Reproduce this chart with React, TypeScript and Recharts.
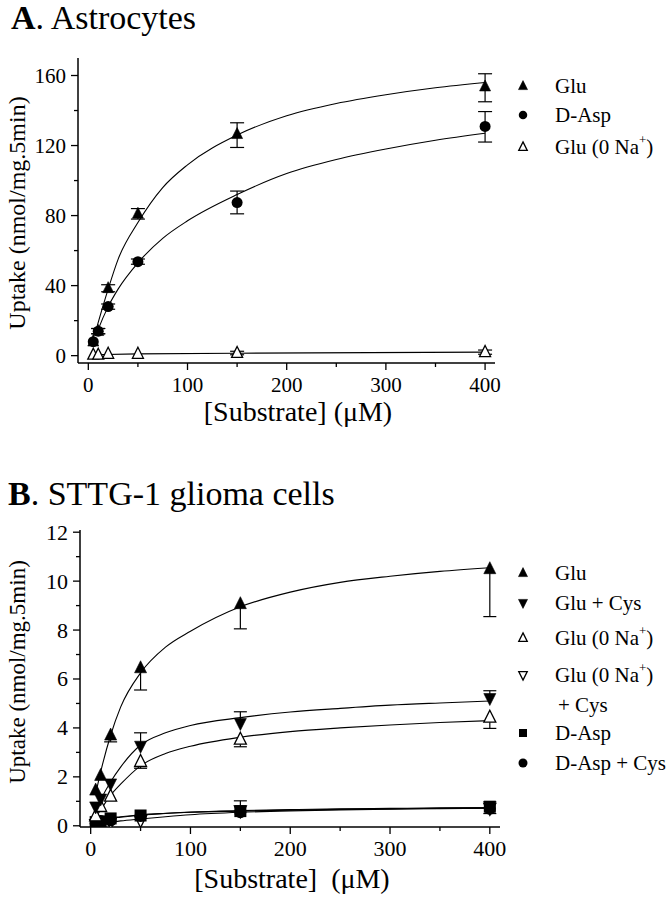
import React from "react";
import { ComposedChart, Line, Scatter, ErrorBar, XAxis, YAxis } from "recharts";

const FONT = "'Liberation Serif', 'Times New Roman', serif";

// substrate concentrations (uM), same for every series
const conc = [5, 10, 20, 50, 150, 400];

// ---- A. Astrocytes ----
const aGlu = [8, 14, 38.5, 81, 126.5, 153.7];
const aGluErr = [null, [1.5, 1.5], [2, 2], [3, 3], [7.6, 6.5], [8.7, 7.3]];
const aAsp = [8, 14, 28, 53.7, 87.4, 130.9];
const aAspErr = [null, [1.5, 1.5], [1.5, 1.5], [1.5, 1.5], [6.4, 6.6], [8.9, 8.5]];
const aGluNa = [0.5, 0.5, 1, 1, 1.5, 2];
const aGluNaErr = [null, null, null, null, [1, 1], [1.2, 1.2]];

// fitted curves
const aFitX = [8, 10, 20, 30, 50, 75, 100, 150, 200, 250, 300, 350, 400];
const aGluFit = [15, 19, 38, 55, 76, 96, 109, 126, 137, 144, 149, 153, 156];
const aAspFit = [12, 15, 28, 38, 53, 67, 77, 92, 104, 112, 118, 123, 127];
const aNaFitX = [5, 50, 150, 400];
const aNaFit = [0.5, 1, 1.4, 2];

// ---- B. STTG-1 glioma cells ----
const bGlu = [1.45, 2.05, 3.7, 6.45, 9.07, 10.5];
const bGluErr = [null, null, [0.27, 0], [0.9, 0], [1.02, 0], [1.95, 0]];
const bGluCys = [0.78, 1.1, 1.72, 3.26, 4.19, 5.21];
const bGluCysErr = [null, null, null, [0, 0.54], [0, 0.47], [0, 0.31]];
const bGluNa = [0.4, 0.78, 1.2, 2.62, 3.53, 4.43];
const bGluNaErr = [null, null, null, [0.27, 0], [0.3, 0], [0.45, 0]];
const bGluNaCys = [0.05, 0.08, 0.15, 0.22, 0.62, 0.72];
const bGluNaCysErr = [null, null, null, null, [0, 0.4], [0.22, 0.26]];
const bAsp = [0.15, 0.18, 0.3, 0.42, 0.6, 0.78];
const bAspCys = [0.1, 0.2, 0.22, 0.4, 0.55, 0.7];

const bFitX = [5, 10, 20, 30, 50, 75, 100, 150, 200, 250, 300, 350, 400];
const bGluFit = [1.3, 2.2, 3.7, 4.85, 6.25, 7.3, 7.95, 8.95, 9.55, 9.95, 10.2, 10.4, 10.55];
const bGluCysFit = [0.6, 1.05, 1.8, 2.4, 3.3, 3.8, 4.1, 4.42, 4.65, 4.8, 4.93, 5.02, 5.1];
const bGluNaFit = [0.35, 0.65, 1.25, 1.7, 2.45, 2.95, 3.25, 3.62, 3.85, 4.0, 4.12, 4.22, 4.3];
const bAspFit = [0.18, 0.24, 0.32, 0.37, 0.45, 0.51, 0.56, 0.62, 0.66, 0.69, 0.71, 0.73, 0.74];
const bAspCysFit = [0.12, 0.2, 0.3, 0.35, 0.43, 0.5, 0.55, 0.6, 0.64, 0.67, 0.69, 0.71, 0.72];
const bGluNaCysFit = [0.03, 0.07, 0.14, 0.2, 0.28, 0.37, 0.45, 0.55, 0.61, 0.65, 0.68, 0.7, 0.72];

// axis ticks
const aYTicks = [0, 20, 40, 60, 80, 100, 120, 140, 160];
const bYTicks = [0, 1, 2, 3, 4, 5, 6, 7, 8, 9, 10, 11, 12];
const xTicks = [0, 50, 100, 150, 200, 250, 300, 350, 400];

type Kind = "up" | "down" | "circle" | "square";
type Err = number[] | null;

interface Series {
  ys: number[];
  errs?: Err[];
  kind: Kind;
  filled: boolean;
  fitX: number[];
  fit: number[];
  curve?: "monotone" | "linear";
}

const points = (ys: number[], errs?: Err[]) =>
  conc.map((x, i) => ({ x, y: ys[i], err: errs && errs[i] ? errs[i] : undefined }));

const curvePoints = (xs: number[], ys: number[]) => xs.map((x, i) => ({ x, y: ys[i] }));

// ends of the error bars, drawn as little dash markers
const capPoints = (ys: number[], errs?: Err[]) => {
  const out: { x: number; y: number }[] = [];
  (errs || []).forEach((e, i) => {
    if (!e) return;
    if (e[0] > 0) out.push({ x: conc[i], y: ys[i] - e[0] });
    if (e[1] > 0) out.push({ x: conc[i], y: ys[i] + e[1] });
  });
  return out;
};

function Marker({ cx, cy, kind, filled, size }: { cx: number; cy: number; kind: Kind; filled: boolean; size: number }) {
  const h = size / 2;
  if (kind === "circle") return <circle cx={cx} cy={cy} r={h} fill="#000" />;
  if (kind === "square") return <rect x={cx - h} y={cy - h} width={size} height={size} fill="#000" />;
  const pts =
    kind === "up"
      ? `${cx},${cy - size * 0.6} ${cx + h},${cy + size * 0.4} ${cx - h},${cy + size * 0.4}`
      : `${cx},${cy + size * 0.6} ${cx + h},${cy - size * 0.4} ${cx - h},${cy - size * 0.4}`;
  return (
    <polygon
      points={pts}
      fill={filled ? "#000" : "#fff"}
      stroke="#000"
      strokeWidth={filled ? 0.6 : 1.3}
      strokeLinejoin="miter"
    />
  );
}

const yTick = (major: number, fs: number) => (p: any) => {
  const v = p.payload.value;
  const big = v % major === 0;
  return (
    <g>
      <line x1={p.x} x2={p.x - (big ? 7 : 4)} y1={p.y} y2={p.y} stroke="#000" strokeWidth={1.3} />
      {big && (
        <text x={p.x - 12} y={p.y + fs * 0.34} textAnchor="end" fontSize={fs} fontFamily={FONT} fill="#000">
          {v}
        </text>
      )}
    </g>
  );
};

const xTick = (major: number, fs: number) => (p: any) => {
  const v = p.payload.value;
  const big = v % major === 0;
  return (
    <g>
      <line x1={p.x} x2={p.x} y1={p.y} y2={p.y + (big ? 7 : 4)} stroke="#000" strokeWidth={1.3} />
      {big && (
        <text x={p.x} y={p.y + 29} textAnchor="middle" fontSize={fs} fontFamily={FONT} fill="#000">
          {v}
        </text>
      )}
    </g>
  );
};

interface PanelProps {
  top: number;
  margin: { top: number; left: number; right: number; bottom: number };
  xDomain: number[];
  yDomain: number[];
  yTicks: number[];
  yMajor: number;
  fs: number;
  series: Series[];
  size: number;
  capW: number;
}

function Panel({ top, margin, xDomain, yDomain, yTicks, yMajor, fs, series, size, capW }: PanelProps) {
  return (
    <div style={{ position: "absolute", left: 0, top }}>
      <ComposedChart width={669} height={440} margin={margin}>
        <XAxis
          type="number"
          dataKey="x"
          domain={xDomain}
          allowDataOverflow
          ticks={xTicks}
          interval={0}
          height={1}
          tickSize={0}
          tickMargin={0}
          tick={xTick(100, fs)}
          tickLine={false}
          axisLine={{ stroke: "#000", strokeWidth: 1.5 }}
        />
        <YAxis
          type="number"
          dataKey="y"
          domain={yDomain}
          allowDataOverflow
          ticks={yTicks}
          interval={0}
          width={1}
          tickSize={0}
          tickMargin={0}
          tick={yTick(yMajor, fs)}
          tickLine={false}
          axisLine={{ stroke: "#000", strokeWidth: 1.5 }}
        />
        {series.map((s, i) => (
          <Line
            key={`fit${i}`}
            data={curvePoints(s.fitX, s.fit)}
            dataKey="y"
            type={s.curve || "monotone"}
            stroke="#000"
            strokeWidth={1.1}
            dot={false}
            activeDot={false}
            isAnimationActive={false}
          />
        ))}
        {series.map((s, i) => (
          <Scatter
            key={`cap${i}`}
            data={capPoints(s.ys, s.errs)}
            dataKey="y"
            isAnimationActive={false}
            shape={(p: any) => (
              <line x1={p.cx - capW} x2={p.cx + capW} y1={p.cy} y2={p.cy} stroke="#000" strokeWidth={1.2} />
            )}
          />
        ))}
        {series.map((s, i) => (
          <Scatter
            key={`pts${i}`}
            data={points(s.ys, s.errs)}
            dataKey="y"
            isAnimationActive={false}
            shape={(p: any) => <Marker cx={p.cx} cy={p.cy} kind={s.kind} filled={s.filled} size={size} />}
          >
            {s.errs && <ErrorBar dataKey="err" direction="y" width={0} stroke="#000" strokeWidth={1.2} />}
          </Scatter>
        ))}
      </ComposedChart>
    </div>
  );
}

const seriesA: Series[] = [
  { ys: aGlu, errs: aGluErr, kind: "up", filled: true, fitX: aFitX, fit: aGluFit },
  { ys: aAsp, errs: aAspErr, kind: "circle", filled: true, fitX: aFitX, fit: aAspFit },
  { ys: aGluNa, errs: aGluNaErr, kind: "up", filled: false, fitX: aNaFitX, fit: aNaFit, curve: "linear" },
];

const seriesB: Series[] = [
  { ys: bGluNaCys, errs: bGluNaCysErr, kind: "down", filled: false, fitX: bFitX, fit: bGluNaCysFit },
  { ys: bAspCys, kind: "circle", filled: true, fitX: bFitX, fit: bAspCysFit },
  { ys: bAsp, kind: "square", filled: true, fitX: bFitX, fit: bAspFit },
  { ys: bGluNa, errs: bGluNaErr, kind: "up", filled: false, fitX: bFitX, fit: bGluNaFit },
  { ys: bGluCys, errs: bGluCysErr, kind: "down", filled: true, fitX: bFitX, fit: bGluCysFit },
  { ys: bGlu, errs: bGluErr, kind: "up", filled: true, fitX: bFitX, fit: bGluFit },
];

const NaPlus = () => (
  <>
    {"Glu (0 Na"}
    <tspan dy={-10} fontSize={13}>+</tspan>
    <tspan dy={10}>)</tspan>
  </>
);

export default function App() {
  const lx = 523;
  const tx = 555;
  return (
    <div style={{ position: "absolute", left: 0, top: 0, width: 669, height: 899, background: "#fff", fontFamily: FONT }}>
      <Panel
        top={0}
        margin={{ top: 58, left: 77, right: 174, bottom: 76 }}
        xDomain={[-10.4, 410]}
        yDomain={[-4.2, 170]}
        yTicks={aYTicks}
        yMajor={40}
        fs={21}
        series={seriesA}
        size={11}
        capW={7}
      />
      <Panel
        top={460}
        margin={{ top: 70, left: 79, right: 169, bottom: 72 }}
        xDomain={[-10.7, 410.2]}
        yDomain={[-0.05, 12.09]}
        yTicks={bYTicks}
        yMajor={2}
        fs={22}
        series={seriesB}
        size={12}
        capW={6.5}
      />
      <svg width={669} height={899} style={{ position: "absolute", left: 0, top: 0, pointerEvents: "none" }} fontFamily={FONT} fill="#000">
        <text x={11} y={29} fontSize={34}>
          <tspan fontWeight="bold">A</tspan>. Astrocytes
        </text>
        <text x={8} y={505} fontSize={34}>
          <tspan fontWeight="bold">B</tspan>. STTG-1 glioma cells
        </text>

        <text transform="translate(25,213) rotate(-90)" textAnchor="middle" fontSize={24}>
          Uptake (nmol/mg.5min)
        </text>
        <text transform="translate(25,672) rotate(-90)" textAnchor="middle" fontSize={23}>
          Uptake (nmol/mg.5min)
        </text>
        <text x={298} y={421} textAnchor="middle" fontSize={28} style={{ whiteSpace: "pre" }}>
          [Substrate] (μM)
        </text>
        <text x={292} y={888} textAnchor="middle" fontSize={28} style={{ whiteSpace: "pre" }}>
          {"[Substrate]  (μM)"}
        </text>

        {/* legend A */}
        <Marker cx={lx} cy={86} kind="up" filled size={9} />
        <text x={tx} y={93} fontSize={21}>Glu</text>
        <Marker cx={lx} cy={115} kind="circle" filled size={8.5} />
        <text x={tx} y={122} fontSize={21}>D-Asp</text>
        <Marker cx={lx} cy={147} kind="up" filled={false} size={8.5} />
        <text x={tx} y={154} fontSize={21}><NaPlus /></text>

        {/* legend B */}
        <Marker cx={lx} cy={573} kind="up" filled size={9} />
        <text x={tx} y={580} fontSize={21}>Glu</text>
        <Marker cx={lx} cy={603} kind="down" filled size={9} />
        <text x={tx} y={610} fontSize={21}>Glu + Cys</text>
        <Marker cx={lx} cy={638} kind="up" filled={false} size={8.5} />
        <text x={tx} y={645} fontSize={21}><NaPlus /></text>
        <Marker cx={lx} cy={675} kind="down" filled={false} size={8.5} />
        <text x={tx} y={682} fontSize={21}><NaPlus /></text>
        <text x={tx + 3} y={712} fontSize={21}>+ Cys</text>
        <Marker cx={lx} cy={733} kind="square" filled size={8} />
        <text x={tx} y={740} fontSize={21}>D-Asp</text>
        <Marker cx={lx} cy={763} kind="circle" filled size={9} />
        <text x={tx} y={770} fontSize={21}>D-Asp + Cys</text>
      </svg>
    </div>
  );
}
